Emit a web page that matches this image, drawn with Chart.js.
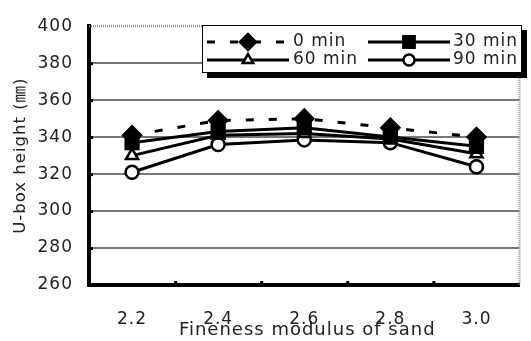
<!DOCTYPE html>
<html>
<head>
<meta charset="utf-8">
<script src="https://cdn.jsdelivr.net/npm/chart.js@4/dist/chart.umd.min.js"></script>
<style>
  html, body { margin: 0; padding: 0; background: #fff; }
  #wrap { width: 531px; height: 341px; position: relative; }
</style>
</head>
<body>
<div id="wrap"><canvas id="c" width="531" height="341"></canvas></div>
<script>
// Fineness modulus of sand on the x axis, U-box height (mm) per elapsed time
const fineness = ['2.2', '2.4', '2.6', '2.8', '3.0'];
const height0min = [341, 349, 350, 345, 340];
const height30min = [337, 343, 345, 340, 335];
const height60min = [330, 341, 342, 339, 331];
const height90min = [321, 336, 338.5, 337, 324];
const seriesNames = ['0 min', '30 min', '60 min', '90 min'];
const yMin = 260, yMax = 400, yStep = 20;

const FONT = "'DejaVu Sans', 'Noto Sans CJK JP', sans-serif";
const TEXT = '#222';

// Slightly spaced lettering for all chart text
const spacingPlugin = {
  id: 'spacing',
  beforeDraw(chart) { chart.ctx.letterSpacing = '1px'; }
};

// Plot frame: dotted top/right border, inward tick marks, axis titles
const framePlugin = {
  id: 'frame',
  beforeDatasetsDraw(chart) {
    const { ctx, chartArea: a, scales } = chart;
    ctx.save();
    ctx.strokeStyle = '#8a8a8a';
    ctx.lineWidth = 2;
    ctx.setLineDash([1, 1]);
    ctx.beginPath();
    ctx.moveTo(a.left, a.top);
    ctx.lineTo(a.right, a.top);
    ctx.lineTo(a.right, a.bottom);
    ctx.stroke();
    ctx.setLineDash([]);
    // small inward ticks on the value axis
    ctx.fillStyle = '#000';
    scales.y.ticks.forEach(t => {
      const y = scales.y.getPixelForValue(t.value);
      if (t.value > yMin && t.value < yMax) ctx.fillRect(a.left, y - 1, 4, 3);
    });
    // small inward ticks between categories
    for (let i = 0; i < fineness.length - 1; i++) {
      const x = (scales.x.getPixelForValue(i) + scales.x.getPixelForValue(i + 1)) / 2;
      ctx.fillRect(x - 1, a.bottom - 4, 3, 4);
    }
    ctx.restore();
  },
  afterDraw(chart) {
    const { ctx, chartArea: a } = chart;
    ctx.save();
    ctx.letterSpacing = '1px';
    ctx.fillStyle = TEXT;
    ctx.textAlign = 'center';
    ctx.textBaseline = 'middle';
    ctx.font = '18px ' + FONT;
    ctx.fillText('Fineness modulus of sand', (a.left + a.right) / 2 + 3, 330);
    ctx.translate(21, (a.top + a.bottom) / 2);
    ctx.rotate(-Math.PI / 2);
    ctx.font = '16.5px ' + FONT;
    ctx.fillText('U-box height (㎜)', 0, 0);
    ctx.restore();
  }
};

// Boxed legend with drop shadow inside the plot area
const boxLegendPlugin = {
  id: 'boxLegend',
  afterDraw(chart) {
    const { ctx } = chart;
    const box = { x: 202, y: 25, w: 320, h: 48 };
    const lineStart = [207, 368], lineEnd = [289, 450], textX = [293, 453], rowY = [42, 60];
    ctx.save();
    ctx.letterSpacing = '1px';
    ctx.fillStyle = '#000';
    ctx.fillRect(box.x + 5, box.y + 5, box.w, box.h);
    ctx.fillStyle = '#fff';
    ctx.fillRect(box.x, box.y, box.w, box.h);
    ctx.strokeStyle = '#000';
    ctx.lineWidth = 1;
    ctx.strokeRect(box.x + 0.5, box.y + 0.5, box.w - 1, box.h - 1);
    chart.data.datasets.forEach((ds, i) => {
      const col = i % 2, row = Math.floor(i / 2);
      const y = rowY[row];
      ctx.strokeStyle = ds.borderColor;
      ctx.lineWidth = ds.borderWidth;
      ctx.setLineDash(ds.borderDash || []);
      ctx.beginPath();
      ctx.moveTo(lineStart[col], y);
      ctx.lineTo(lineEnd[col], y);
      ctx.stroke();
      ctx.setLineDash([]);
      ctx.fillStyle = ds.pointBackgroundColor;
      ctx.strokeStyle = ds.pointBorderColor;
      ctx.lineWidth = ds.pointBorderWidth;
      Chart.helpers.drawPoint(ctx, {
        pointStyle: ds.pointStyle, radius: ds.pointRadius - 1, rotation: 0,
        borderWidth: ds.pointBorderWidth
      }, (lineStart[col] + lineEnd[col]) / 2, y);
      ctx.fillStyle = TEXT;
      ctx.font = '17px ' + FONT;
      ctx.textAlign = 'left';
      ctx.textBaseline = 'middle';
      ctx.fillText(seriesNames[i], textX[col], y);
    });
    ctx.restore();
  }
};

function series(label, data, style, radius, fill, dash) {
  return {
    label, data,
    borderColor: '#000', borderWidth: 3, borderDash: dash || [],
    pointStyle: style, pointRadius: radius, pointHoverRadius: radius,
    pointBackgroundColor: fill, pointBorderColor: '#000', pointBorderWidth: 2.5,
    tension: 0, fill: false
  };
}

new Chart(document.getElementById('c'), {
  type: 'line',
  data: {
    labels: fineness,
    datasets: [
      series(seriesNames[0], height0min, 'rectRot', 9, '#000', [8, 15]),
      series(seriesNames[1], height30min, 'rect', 9, '#000'),
      series(seriesNames[2], height60min, 'triangle', 7, '#fff'),
      series(seriesNames[3], height90min, 'circle', 6.5, '#fff')
    ]
  },
  options: {
    responsive: false,
    animation: false,
    devicePixelRatio: 1,
    layout: { padding: { left: 0, top: 21, right: 4, bottom: 0 } },
    plugins: { legend: { display: false }, tooltip: { enabled: false } },
    scales: {
      x: {
        offset: true,
        grid: { display: false },
        border: { color: '#000', width: 4 },
        ticks: { color: TEXT, font: { family: FONT, size: 17 }, padding: 16 },
        afterFit(s) { s.height = 56; }
      },
      y: {
        min: yMin, max: yMax,
        grid: {
          drawTicks: false,
          lineWidth: 2,
          color: ctx => (ctx.tick && ctx.tick.value === yMax) ? 'rgba(0,0,0,0)' : '#777'
        },
        border: { color: '#000', width: 4 },
        ticks: { stepSize: yStep, color: TEXT, font: { family: FONT, size: 17 }, padding: 16 },
        afterFit(s) { s.width = 89; }
      }
    }
  },
  plugins: [spacingPlugin, framePlugin, boxLegendPlugin]
});
</script>
</body>
</html>
